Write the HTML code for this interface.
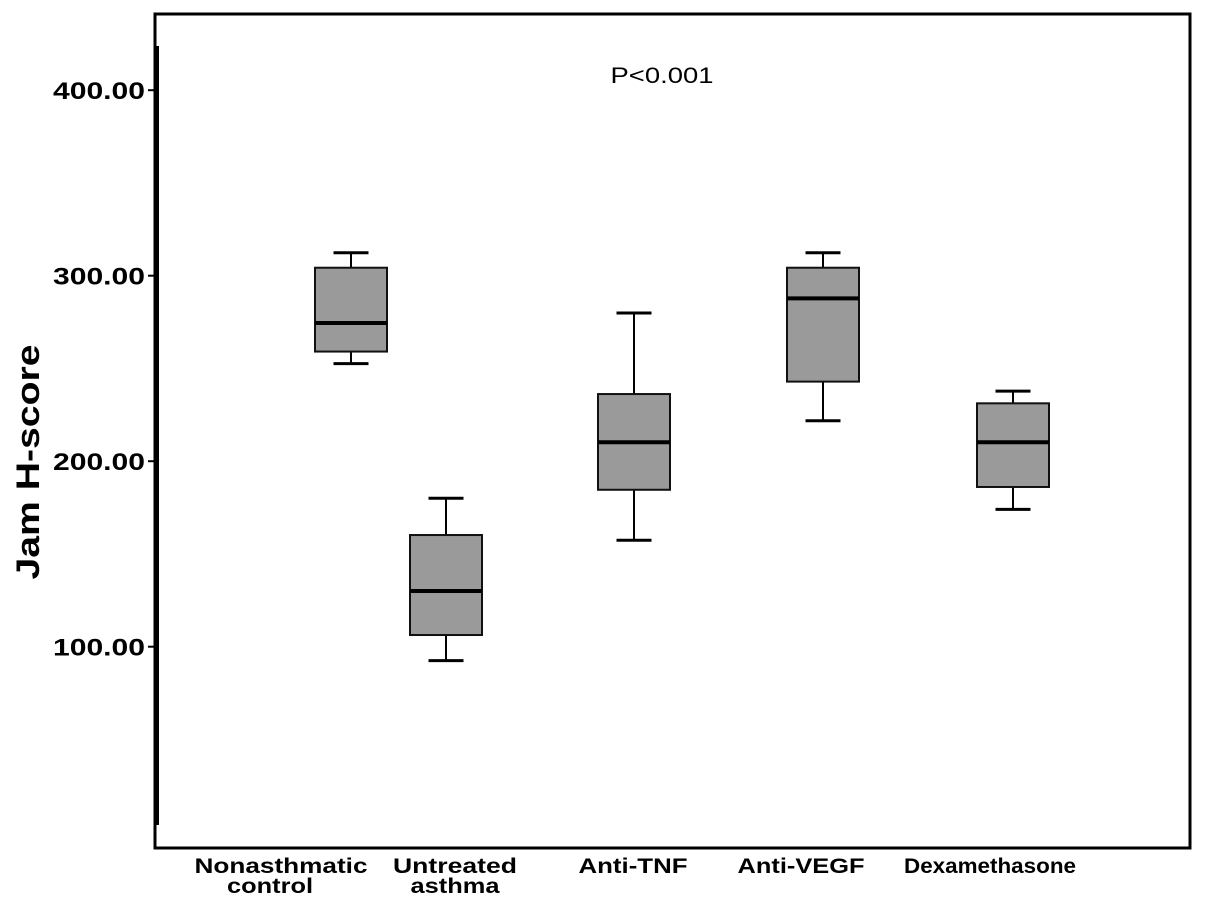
<!DOCTYPE html>
<html><head><meta charset="utf-8"><style>
body{margin:0;background:#fff;width:1205px;height:919px;overflow:hidden}
svg text{font-family:"Liberation Sans",Arial,sans-serif}
</style></head><body>
<svg width="1205" height="919">
<rect x="155" y="14" width="1035" height="834" fill="none" stroke="#000" stroke-width="3"/>
<line x1="157" y1="46" x2="157" y2="825" stroke="#000" stroke-width="4"/>
<text x="28" y="462" transform="rotate(-90 28 462)" text-anchor="middle" dominant-baseline="central" font-size="32" font-weight="bold" textLength="235" lengthAdjust="spacingAndGlyphs">Jam H-score</text>
<text x="662" y="83" text-anchor="middle" font-size="22" textLength="103" lengthAdjust="spacingAndGlyphs">P&lt;0.001</text>
<g id="ticks"></g><g id="boxes"></g><g id="xlabels"></g>
</svg>
<script>
const categories=["Nonasthmatic control","Untreated asthma","Anti-TNF","Anti-VEGF","Dexamethasone"];
const whiskerLow=[252.6,92.5,157.4,221.8,174];
const q1=[259.1,106.3,184.6,242.9,186.1];
const median=[274.5,130,210.2,287.8,210.2];
const q3=[304.3,160.2,236.2,304.3,231.2];
const whiskerHigh=[312.4,180,279.9,312.4,237.8];
const yTicks=[100,200,300,400];
const yTickLabels=["100.00","200.00","300.00","400.00"];
const NS="http://www.w3.org/2000/svg";
function y(v){return 646.7-(v-100)*1.855;}
const centers=[351,446,634,823,1013];
const labelX=[[281,270],[455,455],[633],[801],[990]];
const labelW=[[173,86],[124,89],[109],[127],[172]];
function mk(tag,a,p){const e=document.createElementNS(NS,tag);for(const k in a)e.setAttribute(k,a[k]);p.appendChild(e);return e;}
const tg=document.getElementById('ticks');
yTicks.forEach((t,i)=>{
 const l=mk('line',{x1:148,x2:157,y1:y(t),y2:y(t),stroke:'#000','stroke-width':2},tg);
 
 
 const tx=mk('text',{x:145,y:y(t)+9,'text-anchor':'end','font-size':24,'font-weight':'bold',textLength:92,lengthAdjust:'spacingAndGlyphs'},tg);
 tx.textContent=yTickLabels[i];
 
 
});
const bg=document.getElementById('boxes');
categories.forEach((c,i)=>{
 const cx=centers[i],w=72,cw=35;
 const g=mk('g',{},bg);
 
 
 mk('line',{x1:cx,x2:cx,y1:y(whiskerHigh[i]),y2:y(q3[i]),stroke:'#000','stroke-width':2},g);
 mk('line',{x1:cx,x2:cx,y1:y(q1[i]),y2:y(whiskerLow[i]),stroke:'#000','stroke-width':2},g);
 mk('line',{x1:cx-cw/2,x2:cx+cw/2,y1:y(whiskerHigh[i]),y2:y(whiskerHigh[i]),stroke:'#000','stroke-width':3},g);
 mk('line',{x1:cx-cw/2,x2:cx+cw/2,y1:y(whiskerLow[i]),y2:y(whiskerLow[i]),stroke:'#000','stroke-width':3},g);
 mk('rect',{x:cx-w/2,y:y(q3[i]),width:w,height:y(q1[i])-y(q3[i]),fill:'#9a9a9a',stroke:'#111','stroke-width':2},g);
 mk('line',{x1:cx-w/2,x2:cx+w/2,y1:y(median[i]),y2:y(median[i]),stroke:'#000','stroke-width':4},g);
});
const xg=document.getElementById('xlabels');
categories.forEach((c,i)=>{
 const words=(i<2)?c.split(' '):[c];
 words.forEach((w,j)=>{
  const t=mk('text',{x:labelX[i][j],y:873+j*20,'text-anchor':'middle','font-size':21,'font-weight':'bold',textLength:labelW[i][j],lengthAdjust:'spacingAndGlyphs'},xg);
  t.textContent=w;
  
  
 });
});
</script>
</body></html>
